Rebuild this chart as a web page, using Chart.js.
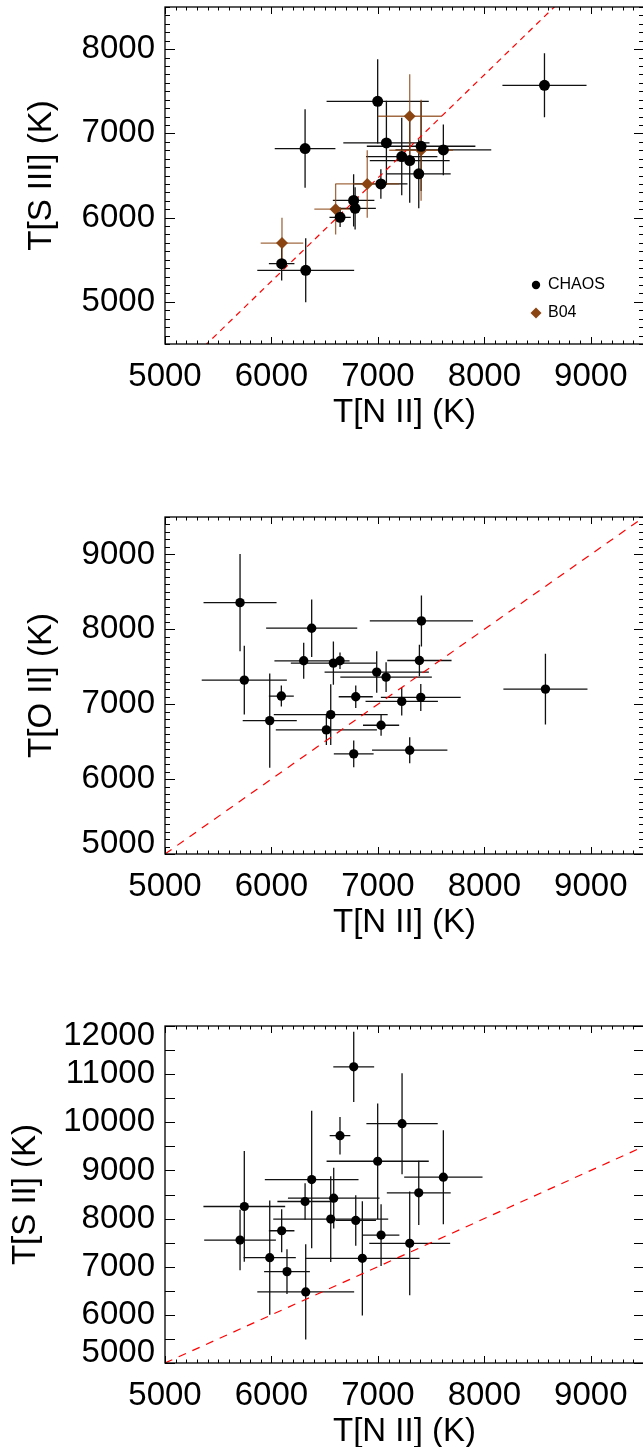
<!DOCTYPE html>
<html>
<head>
<meta charset="utf-8">
<title>T[N II] comparisons</title>
<script src="https://cdn.jsdelivr.net/npm/chart.js@4"></script>
<style>
  html, body { margin: 0; padding: 0; background: #fff; overflow: hidden; }
  body { width: 643px; height: 1447px; position: relative; }
  canvas { position: absolute; left: 0; }
</style>
</head>
<body>
<canvas id="siii" width="650" height="440" style="top:0"></canvas>
<canvas id="oii" width="650" height="440" style="top:510px"></canvas>
<canvas id="sii" width="650" height="440" style="top:1019px"></canvas>
<script>
// shared T[N II] axis
const xTicks = [5000, 6000, 7000, 8000, 9000];

// T[S III] vs T[N II]
const siiiTicks = [5000, 6000, 7000, 8000];
const siiiChaosTn2    = [8565, 6998, 6316, 7080, 7406, 7615, 7224, 7299, 7384, 7028, 6772, 6786, 6645, 6096, 6322];
const siiiChaosTn2Err = [ 395,  480,  285,  405,  510,  450,  335,  375,  300,  250,  195,  195,  100,  120,  455];
const siiiChaosT      = [7570, 7380, 6820, 6887, 6847, 6804, 6725, 6677, 6520, 6400, 6204, 6110, 6004, 5454, 5375];
const siiiChaosTErr   = [ 380,  500,  465,  500,  530,  300,  460,  500,  410,  175,  310,  250,  115,  200,  380];
const siiiB04Tn2      = [6099, 6603, 6900, 7299, 7406];
const siiiB04Tn2Err   = [ 200,  200,  300,  300,  300];
const siiiB04T        = [5698, 6100, 6400, 7203, 6800];
const siiiB04TErr     = [ 300,  300,  400,  500,  600];
const siiiRelX = [5000, 9500];
const siiiRelY = [4020, 9533];

// T[O II] vs T[N II]
const oiiTicks = [5000, 6000, 7000, 8000, 9000];
const oiiTn2    = [5705, 6378, 7409, 6303, 6582, 6644, 7390, 6989, 7077, 5745, 6093, 6792, 7224, 7403, 8574, 5984, 6557, 6516, 7030, 6773, 7299];
const oiiTn2Err = [ 343,  428,  485,  275,  400,   90,  302,  490,  430,  400,  117,  160,  340,  375,  395,  254,  535,  475,  170,  187,  354];
const oiiT      = [8356, 8015, 8112, 7580, 7549, 7580, 7584, 7429, 7362, 7322, 7109, 7100, 7038, 7091, 7202, 6781, 6861, 6657, 6719, 6337, 6386];
const oiiTErr   = [ 650,  385,  340,  240,  290,  110,  210,  277,  200,  460,  140,  150,  190,  180,  473,  630,  407,  200,  140,  178,  173];
const oiiRelX = [5000, 9500];
const oiiRelY = [5000, 9500];

// T[S II] vs T[N II]
const siiTicks = [5000, 6000, 7000, 8000, 9000, 10000, 11000, 12000];
const siiTn2    = [6773, 7227, 6644, 6998, 6378, 7615, 7384, 5745, 6316, 6585, 6557, 6792, 6096, 5705, 7030, 7299, 5984, 6854, 6146, 6322];
const siiTn2Err = [ 192,  335,   97,  480,  440,  368,  300,  384,  260,  430,  540,  190,  120,  337,  172,  380,  245,  537,  215,  455];
const siiT      = [11152, 9971, 9722, 9191, 8811, 8859, 8535, 8251, 8355, 8424, 7989, 7961, 7747, 7554, 7657, 7485, 7188, 7174, 6898, 6477];
const siiTErr   = [  730, 1050,  390, 1200, 1430,  975,  666, 1150,  380,  630,  890,  525,  445,  630,  640, 1077, 1185, 1185,  465,  990];
const siiRelX = [5000, 9500];
const siiRelY = [5000, 9500];

const FONT = '"Liberation Sans", Arial, Helvetica, sans-serif';
const BROWN = '#8b4513';

// error bars go under the markers
const errorBars = {
  id: 'errorBars',
  beforeDatasetsDraw(chart) {
    const { ctx, chartArea: a, scales: { x, y } } = chart;
    ctx.save();
    ctx.beginPath();
    ctx.rect(a.left, a.top, a.right - a.left, a.bottom - a.top);
    ctx.clip();
    chart.data.datasets.forEach(ds => {
      if (!ds.xErr) return;
      ctx.strokeStyle = ds.barColor;
      ctx.lineWidth = 1.3;
      ds.data.forEach((p, i) => {
        const px = x.getPixelForValue(p.x), py = y.getPixelForValue(p.y);
        ctx.beginPath();
        ctx.moveTo(x.getPixelForValue(p.x - ds.xErr[i]), py);
        ctx.lineTo(x.getPixelForValue(p.x + ds.xErr[i]), py);
        ctx.moveTo(px, y.getPixelForValue(p.y - ds.yErr[i]));
        ctx.lineTo(px, y.getPixelForValue(p.y + ds.yErr[i]));
        ctx.stroke();
      });
    });
    ctx.restore();
  }
};

// box, inward ticks, y labels kept inside the box, optional legend
const frame = {
  id: 'frame',
  afterDraw(chart, args, o) {
    const { ctx, chartArea: a, scales: { x, y } } = chart;
    ctx.save();
    ctx.strokeStyle = '#000';
    ctx.lineWidth = 1;
    ctx.beginPath();
    for (let v = Math.ceil(x.min / o.xStep) * o.xStep; v <= x.max; v += o.xStep) {
      const px = Math.round(x.getPixelForValue(v)) + 0.5;
      const len = v % o.xMajor === 0 ? 7 : 3.5;
      ctx.moveTo(px, a.bottom); ctx.lineTo(px, a.bottom - len);
      ctx.moveTo(px, a.top); ctx.lineTo(px, a.top + len);
    }
    for (let v = Math.ceil(y.min / o.yStep) * o.yStep; v <= y.max; v += o.yStep) {
      const py = Math.round(y.getPixelForValue(v)) + 0.5;
      const len = v % o.yMajor === 0 ? 10 : 5;
      ctx.moveTo(a.left, py); ctx.lineTo(a.left + len, py);
      ctx.moveTo(a.right, py); ctx.lineTo(a.right - len, py);
    }
    ctx.stroke();
    ctx.lineWidth = 1.3;
    ctx.strokeRect(a.left, a.top, a.right - a.left, a.bottom - a.top);

    ctx.fillStyle = '#000';
    ctx.font = '33px ' + FONT;
    ctx.textAlign = 'right';
    ctx.textBaseline = 'middle';
    o.yLabels.forEach(v => {
      const py = Math.min(Math.max(y.getPixelForValue(v), a.top + 10), a.bottom - 10);
      ctx.fillText(String(v), a.left - 10, py);
    });

    if (o.legend) {
      ctx.font = '16px ' + FONT;
      ctx.textAlign = 'left';
      o.legend.forEach((item, i) => {
        const lx = a.right - 108, ly = a.bottom - 59 + i * 28;
        ctx.fillStyle = item.color;
        Chart.helpers.drawPoint(ctx, { pointStyle: item.style, radius: item.radius, borderWidth: 0 }, lx, ly);
        ctx.fillStyle = '#000';
        ctx.fillText(item.text, lx + 12, ly);
      });
    }
    ctx.restore();
  }
};

function panel(id, p) {
  const datasets = p.sets.map(s => ({
    label: s.label,
    data: s.x.map((v, i) => ({ x: v, y: s.y[i] })),
    xErr: s.xErr,
    yErr: s.yErr,
    barColor: s.barColor,
    pointStyle: s.style,
    pointRadius: s.radius,
    backgroundColor: s.color,
    borderColor: s.color,
    borderWidth: 0
  }));
  datasets.push({
    label: 'relation',
    data: p.relX.map((v, i) => ({ x: v, y: p.relY[i] })),
    showLine: true,
    borderColor: '#ff0000',
    borderWidth: 1.2,
    borderDash: p.dash,
    pointRadius: 0
  });

  const tickFont = { family: FONT, size: 33 };
  new Chart(document.getElementById(id), {
    type: 'scatter',
    data: { datasets },
    options: {
      responsive: false,
      animation: false,
      devicePixelRatio: 1,
      layout: { padding: { top: 7, right: 6, left: 0, bottom: 0 } },
      plugins: {
        legend: { display: false },
        tooltip: { enabled: false },
        frame: { xStep: 100, xMajor: 1000, yStep: p.yStep, yMajor: p.yMajor, yLabels: p.yTicks, legend: p.legend }
      },
      scales: {
        x: {
          type: 'linear', min: 5000, max: 9500,
          afterBuildTicks: s => { s.ticks = xTicks.map(v => ({ value: v })); },
          afterFit: s => { s.height = 96; },
          grid: { display: false, drawTicks: false },
          border: { display: false },
          ticks: { padding: 13, color: '#000', font: tickFont, maxRotation: 0, autoSkip: false, callback: v => String(v) },
          title: { display: true, text: 'T[N II] (K)', color: '#000', font: tickFont, padding: { top: 0, bottom: 7 } }
        },
        y: {
          type: 'linear', min: p.yMin, max: p.yMax,
          afterBuildTicks: s => { s.ticks = p.yTicks.map(v => ({ value: v })); },
          afterFit: s => { s.width = 165; },
          grid: { display: false, drawTicks: false },
          border: { display: false },
          ticks: { display: false },
          title: { display: true, text: p.yTitle, color: '#000', font: tickFont, padding: { top: p.yTitlePad, bottom: 0 } }
        }
      }
    },
    plugins: [errorBars, frame]
  });
}

panel('siii', {
  yMin: 4500, yMax: 8500, yTicks: siiiTicks, yStep: 100, yMajor: 1000,
  yTitle: 'T[S III] (K)', yTitlePad: 22,
  relX: siiiRelX, relY: siiiRelY, dash: [6, 5],
  sets: [
    { label: 'CHAOS', x: siiiChaosTn2, xErr: siiiChaosTn2Err, y: siiiChaosT, yErr: siiiChaosTErr,
      color: '#000', barColor: '#111', style: 'circle', radius: 5.5 },
    { label: 'B04', x: siiiB04Tn2, xErr: siiiB04Tn2Err, y: siiiB04T, yErr: siiiB04TErr,
      color: BROWN, barColor: 'rgba(139,69,19,0.8)', style: 'rectRot', radius: 6 }
  ],
  legend: [
    { text: 'CHAOS', color: '#000', style: 'circle', radius: 4.2 },
    { text: 'B04', color: BROWN, style: 'rectRot', radius: 5.5 }
  ]
});

panel('oii', {
  yMin: 5000, yMax: 9500, yTicks: oiiTicks, yStep: 100, yMajor: 1000,
  yTitle: 'T[O II] (K)', yTitlePad: 22,
  relX: oiiRelX, relY: oiiRelY, dash: [8, 7],
  sets: [
    { label: 'CHAOS', x: oiiTn2, xErr: oiiTn2Err, y: oiiT, yErr: oiiTErr,
      color: '#000', barColor: '#111', style: 'circle', radius: 4.7 }
  ]
});

panel('sii', {
  yMin: 5000, yMax: 12000, yTicks: siiTicks, yStep: 500, yMajor: 500,
  yTitle: 'T[S II] (K)', yTitlePad: 6,
  relX: siiRelX, relY: siiRelY, dash: [8, 7],
  sets: [
    { label: 'CHAOS', x: siiTn2, xErr: siiTn2Err, y: siiT, yErr: siiTErr,
      color: '#000', barColor: '#111', style: 'circle', radius: 4.6 }
  ]
});
</script>
</body>
</html>
